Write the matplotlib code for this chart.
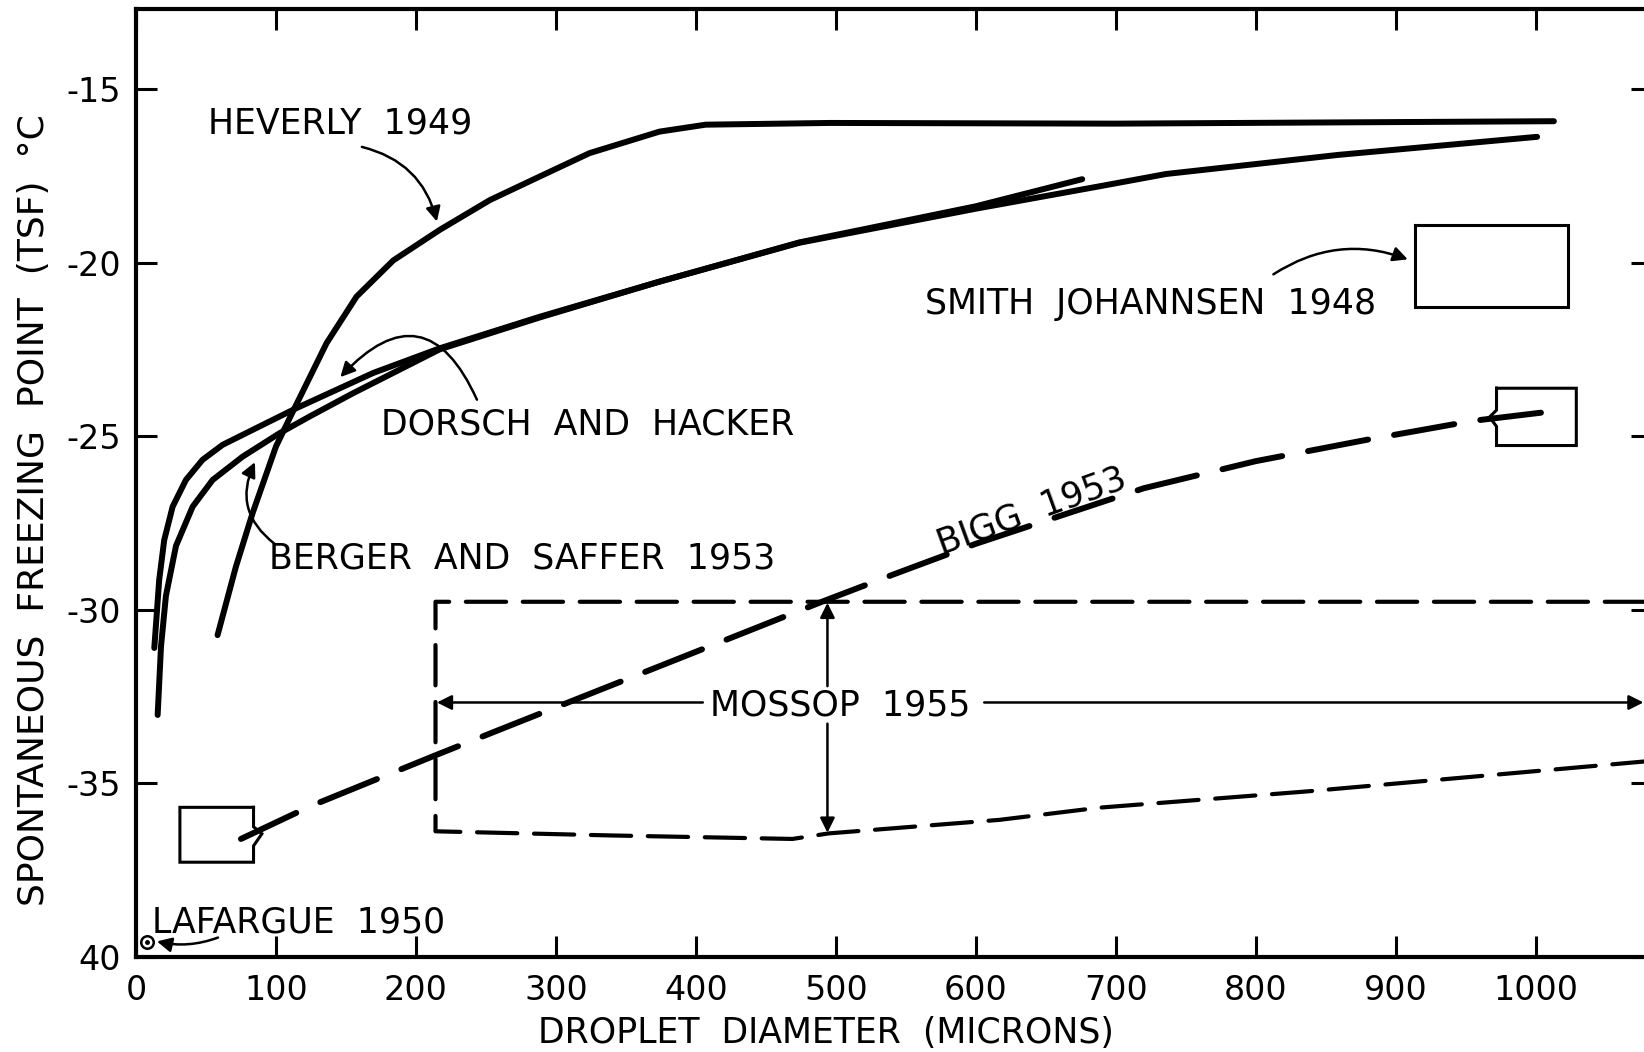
import matplotlib
matplotlib.use('Agg')
import matplotlib.pyplot as plt

# ---------------- data ----------------
x_ticks = [0, 100, 200, 300, 400, 500, 600, 700, 800, 900, 1000]
x_tick_labels = ["0", "100", "200", "300", "400", "500", "600", "700", "800", "900", "1000"]
y_ticks = [-40, -35, -30, -25, -20, -15]
y_tick_labels = ["40", "-35", "-30", "-25", "-20", "-15"]

heverly_x = [58.3, 71.4, 83.3, 100, 112, 136.2, 157.6, 183.8, 217, 252.9, 288.6, 324,
             374, 407, 496, 700, 1013]
heverly_y = [-30.73, -28.76, -27.22, -25.3, -24.3, -22.32, -20.98, -19.94, -19.06, -18.2,
             -17.52, -16.85, -16.23, -16.03, -15.98, -16.0, -15.93]

dorsch_x = [13.1, 16.6, 20.2, 26.2, 35.7, 47.6, 61.9, 83.3, 114.3, 143, 169.5, 217, 288.6,
            374, 474, 600, 689, 736, 859, 1001]
dorsch_y = [-31.1, -29.14, -27.99, -27.03, -26.26, -25.68, -25.25, -24.82, -24.2, -23.67,
            -23.18, -22.47, -21.56, -20.55, -19.43, -18.45, -17.8, -17.45, -16.9, -16.38]

berger_x = [15.5, 17.9, 21.4, 28.6, 40.5, 54.8, 76.2, 102.4, 123.8, 154.8, 217, 288.6,
            374, 474, 600, 676]
berger_y = [-33.03, -31.05, -29.6, -28.16, -27.03, -26.26, -25.59, -24.92, -24.44, -23.77,
            -22.5, -21.58, -20.55, -19.42, -18.38, -17.6]

bigg_x = [75, 125, 175, 214, 260, 300, 350, 400, 450, 490, 540, 600, 660, 720, 800, 880, 955, 1013]
bigg_y = [-36.6, -35.65, -34.83, -34.19, -33.45, -32.81, -32.01, -31.21, -30.41, -29.77,
          -29.0, -28.1, -27.3, -26.5, -25.72, -25.1, -24.56, -24.28]

mossop_x = [1083, 214, 214, 340, 469, 495, 617, 688, 837, 1083]
mossop_y = [-29.77, -29.77, -36.38, -36.5, -36.6, -36.44, -36.05, -35.7, -35.23, -34.35]

smith_box_x = [913.6, 1023, 1023, 913.6, 913.6]
smith_box_y = [-18.91, -18.91, -21.29, -21.29, -18.91]

bigg_box_left_x = [84, 31.4, 31.4, 84, 84, 90, 84, 84]
bigg_box_left_y = [-35.69, -35.69, -37.27, -37.27, -36.8, -36.45, -36.25, -35.69]
bigg_box_right_x = [972, 1029, 1029, 972, 972, 967, 972, 972]
bigg_box_right_y = [-23.62, -23.62, -25.27, -25.27, -24.72, -24.45, -24.25, -23.62]

lafargue_x = [7.9]
lafargue_y = [-39.57]

# ---------------- figure ----------------
plt.rcParams['font.family'] = 'DejaVu Sans'
plt.rcParams['lines.scale_dashes'] = False

fig = plt.figure(figsize=(16.44, 10.52), dpi=100)
ax = fig.add_axes([0.0827, 0.0903, 0.9221, 0.9011])
ax.set_xlim(0, 1083)
ax.set_ylim(-40, -12.7)

for s in ax.spines.values():
    s.set_linewidth(3)

ax.set_xticks(x_ticks)
ax.set_xticklabels(x_tick_labels, fontsize=24)
ax.set_yticks(y_ticks)
ax.set_yticklabels(y_tick_labels, fontsize=24)
ax.tick_params(direction='in', length=15, width=2.2, top=True, right=True,
               labeltop=False, labelright=False)
ax.tick_params(axis='x', pad=12)
ax.tick_params(axis='y', pad=11)

ax.set_ylabel("SPONTANEOUS  FREEZING  POINT  (TSF)  \u00b0C", fontsize=26)
ax.yaxis.label.set_va('center')
ax.yaxis.set_label_coords(-0.0673, 0.472)
ax.set_xlabel("DROPLET  DIAMETER  (MICRONS)", fontsize=25)
ax.xaxis.label.set_va('center')
ax.xaxis.set_label_coords(0.455, -0.080)

solid_kw = dict(color='black', lw=4.3, solid_capstyle='round', solid_joinstyle='round')
ax.plot(heverly_x, heverly_y, **solid_kw)
ax.plot(dorsch_x, dorsch_y, **solid_kw)
ax.plot(berger_x, berger_y, **solid_kw)

ax.plot(bigg_x, bigg_y, color='black', lw=4.3, dashes=(44, 19), dash_capstyle='round')
ax.plot(mossop_x, mossop_y, color='black', lw=3.0, dashes=(29, 12), dash_capstyle='round')

box_kw = dict(color='black', lw=2.2, solid_joinstyle='miter')
ax.plot(smith_box_x, smith_box_y, **box_kw)
ax.plot(bigg_box_left_x, bigg_box_left_y, **box_kw)
ax.plot(bigg_box_right_x, bigg_box_right_y, **box_kw)

ax.plot(lafargue_x, lafargue_y, marker='o', ms=9, mfc='white', mec='black', mew=1.8, ls='none')
ax.plot(lafargue_x, lafargue_y, marker='o', ms=2.5, color='black', ls='none')

# ---------------- labels & arrows ----------------
fs = 25
ax.text(146, -16.0, "HEVERLY  1949", fontsize=fs, ha='center', va='center')
ax.text(323, -24.67, "DORSCH  AND  HACKER", fontsize=fs, ha='center', va='center')
ax.text(276, -28.53, "BERGER  AND  SAFFER  1953", fontsize=fs, ha='center', va='center')
ax.text(725, -21.19, "SMITH  JOHANNSEN  1948", fontsize=fs, ha='center', va='center')
ax.text(503, -32.76, "MOSSOP  1955", fontsize=fs, ha='center', va='center')
ax.text(116, -39.0, "LAFARGUE  1950", fontsize=fs, ha='center', va='center')
ax.text(640, -27.15, "BIGG  1953", fontsize=fs, ha='center', va='center', rotation=20)

arr = dict(arrowstyle='-|>', color='black', lw=1.8, mutation_scale=22, shrinkA=0, shrinkB=0)

def arrow(x0, y0, x1, y1, rad=0.0):
    p = dict(arr)
    p['connectionstyle'] = "arc3,rad=%s" % rad
    ax.annotate("", xy=(x1, y1), xytext=(x0, y0), arrowprops=p)

arrow(161.4, -16.67, 215, -18.82, -0.3)      # Heverly
arrow(243.6, -23.95, 146, -23.3, 0.75)        # Dorsch
arrow(99, -28.1, 85, -25.75, -0.4)            # Berger
arrow(812.6, -20.34, 908.6, -19.91, -0.25)    # Smith
arrow(58.6, -39.44, 15, -39.55, -0.15)        # Lafargue
arrow(405, -32.67, 215, -32.67)               # Mossop left
arrow(606, -32.67, 1077, -32.67)              # Mossop right
arrow(494, -32.2, 494, -29.8)                 # Mossop up
arrow(494, -33.28, 494, -36.42)               # Mossop down

fig.savefig('out.png', dpi=100)
